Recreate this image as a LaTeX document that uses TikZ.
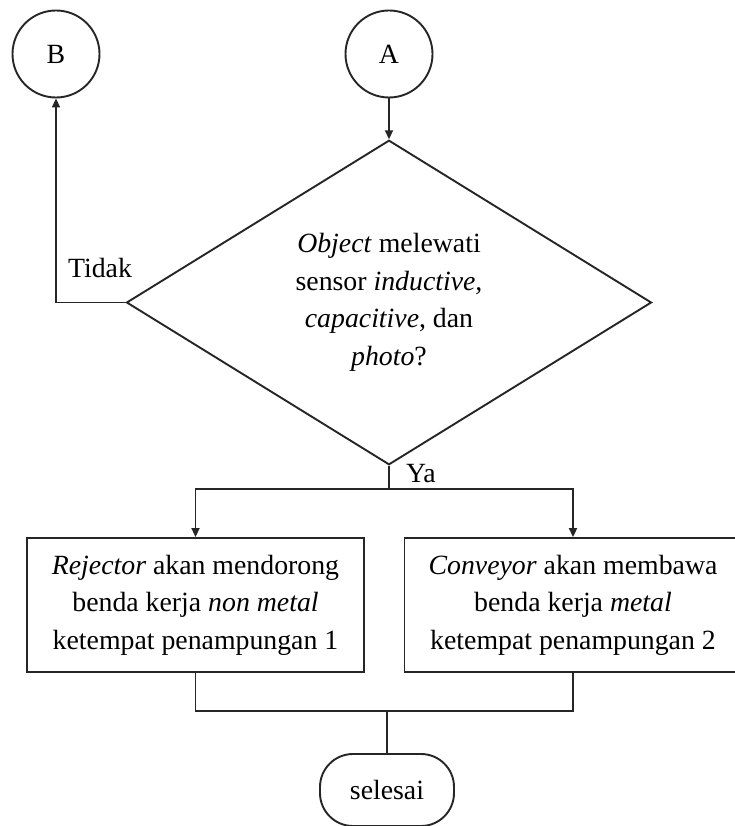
\documentclass[tikz,border=0pt]{standalone}
\usepackage{fontspec}
\setmainfont{Liberation Serif}
\usetikzlibrary{shapes.geometric,arrows.meta}
\begin{document}
\begin{tikzpicture}[x=1pt,y=-1pt,
  every node/.style={font=\fontsize{27.8}{37.5}\selectfont},
  conn/.style={line width=1.9pt, draw=black!85},
  arr/.style={conn, -{Triangle[length=9pt,width=8pt]}},
  circ/.style={circle, draw=black!85, line width=1.9pt, minimum size=87pt, inner sep=0pt},
  decision/.style={diamond, draw=black!85, line width=1.9pt, minimum width=525pt, minimum height=319pt, inner sep=0pt, align=center},
  procbox/.style={rectangle, draw=black!85, line width=1.9pt, minimum width=337pt, minimum height=134pt, inner sep=0pt, align=center},
  term/.style={rectangle, rounded corners=33pt, draw=black!85, line width=1.9pt, minimum width=134pt, minimum height=72pt, inner sep=0pt},
  lbl/.style={inner sep=0pt}]
\useasboundingbox (0,0) rectangle (734,826);
\fill[white] (0,0) rectangle (734,826);
\node[circ] (B) at (56,54) {B};
\node[circ] (A) at (389,54) {A};
\node[decision] (D) at (389,302.5) {\textit{Object} melewati\\ sensor \textit{inductive,}\\ \textit{capacitive}, dan\\ \textit{photo}?};
\node[procbox] (L) at (195.5,605) {\textit{Rejector} akan mendorong\\ benda kerja \textit{non metal}\\ ketempat penampungan 1};
\node[procbox] (R) at (573,605) {\textit{Conveyor} akan membawa\\ benda kerja \textit{metal}\\ ketempat penampungan 2};
\node[term] (S) at (387,790) {selesai};
\node[lbl] (tidak) at (100,268) {Tidak};
\node[lbl] (ya) at (421,474) {Ya};
\coordinate (split) at (389,489);
\coordinate (merge) at (387,711);
\draw[arr] (A.south) -- (D.north);
\draw[arr] (D.west) -| (B.south);
\draw[conn] (D.south) -- (split);
\draw[arr] (split) -| (L.north);
\draw[arr] (split) -| (R.north);
\draw[conn] (L.south) |- (merge);
\draw[conn] (R.south) |- (merge);
\draw[conn] (merge) -- (S.north);
\end{tikzpicture}
\end{document}
